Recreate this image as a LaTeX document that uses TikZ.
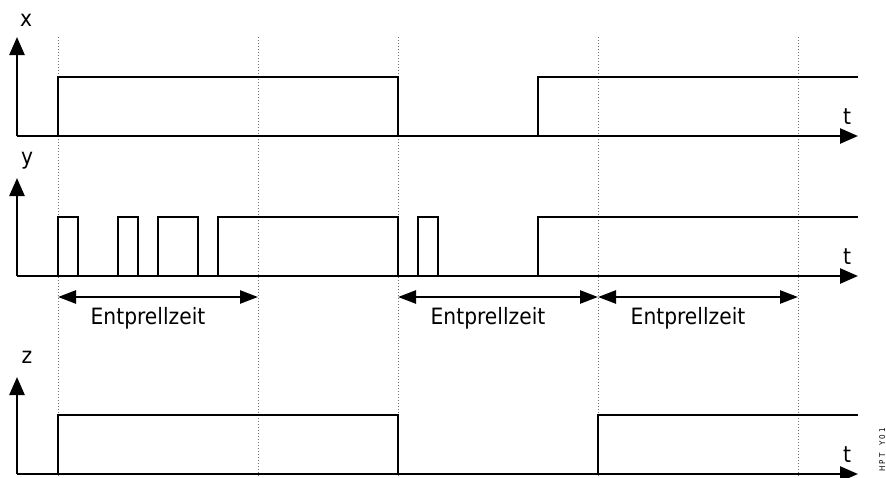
\documentclass[tikz,border=0pt]{standalone}
\usepackage{fontspec}
\setmainfont{DejaVu Sans Condensed}
\usetikzlibrary{arrows.meta}

\begin{document}
\begin{tikzpicture}[x=1pt,y=-1pt,line width=2.5pt,
  axis/.style={-{Triangle[length=18pt,width=15pt]}},
  span/.style={{Triangle[length=18pt,width=13pt]}-{Triangle[length=18pt,width=13pt]}},
  hilfs/.style={black!55,line width=1pt,dash pattern=on 1.2pt off 1.8pt},
  lbl/.style={font=\fontsize{22.5}{24}\selectfont,inner sep=0pt}]
\useasboundingbox (0,0) rectangle (886,477);
% Hilfslinien
\foreach \t in {58,258,398,598,798}
  \draw[hilfs] (\t,37) -- (\t,477);
% Achsen
\foreach \b/\o in {136/37,276/178,474/377}{
  \draw[axis] (17,\b) -- (17,\o);
  \draw[axis] (17,\b) -- (858,\b);
}
\node[lbl] (xlab) at (26,20) {x};
\node[lbl] (ylab) at (27,161) {y};
\node[lbl] (zlab) at (27,357) {z};
\node[lbl] (tx) at (847,117) {t};
\node[lbl] (ty) at (847,257) {t};
\node[lbl] (tz) at (847,455) {t};
% Signal x
\draw (17,136) -- (58,136) -- (58,77) -- (398,77) -- (398,136) -- (538,136) -- (538,77) -- (858,77);
% Signal y (prellt)
\draw (17,276) -- (218,276) -- (218,217) -- (398,217) -- (398,276) -- (538,276) -- (538,217) -- (858,217);
\foreach \l/\r in {58/78,118/138,158/198,418/438}
  \draw (\l,276) -- (\l,217) -- (\r,217) -- (\r,276);
% Signal z (entprellt)
\draw (17,474) -- (58,474) -- (58,415) -- (398,415) -- (398,474) -- (598,474) -- (598,415) -- (858,415);
% Entprellzeit
\foreach \t/\n in {58/a,258/b,398/c,598/d,798/e}
  \coordinate (\n) at (\t,297);
\draw[span] (a) -- (b);
\draw[span] (c) -- (d);
\draw[span] (d) -- (e);
\node[lbl,anchor=base] (ep1) at (148,324) {Entprellzeit};
\node[lbl,anchor=base] (ep2) at (488,324) {Entprellzeit};
\node[lbl,anchor=base] (ep3) at (688,324) {Entprellzeit};
\node[rotate=90,font=\fontsize{8}{9}\selectfont\addfontfeature{LetterSpace=25},inner sep=0pt] (kenn) at (883,450) {HPT\_Y01};
\end{tikzpicture}
\end{document}
